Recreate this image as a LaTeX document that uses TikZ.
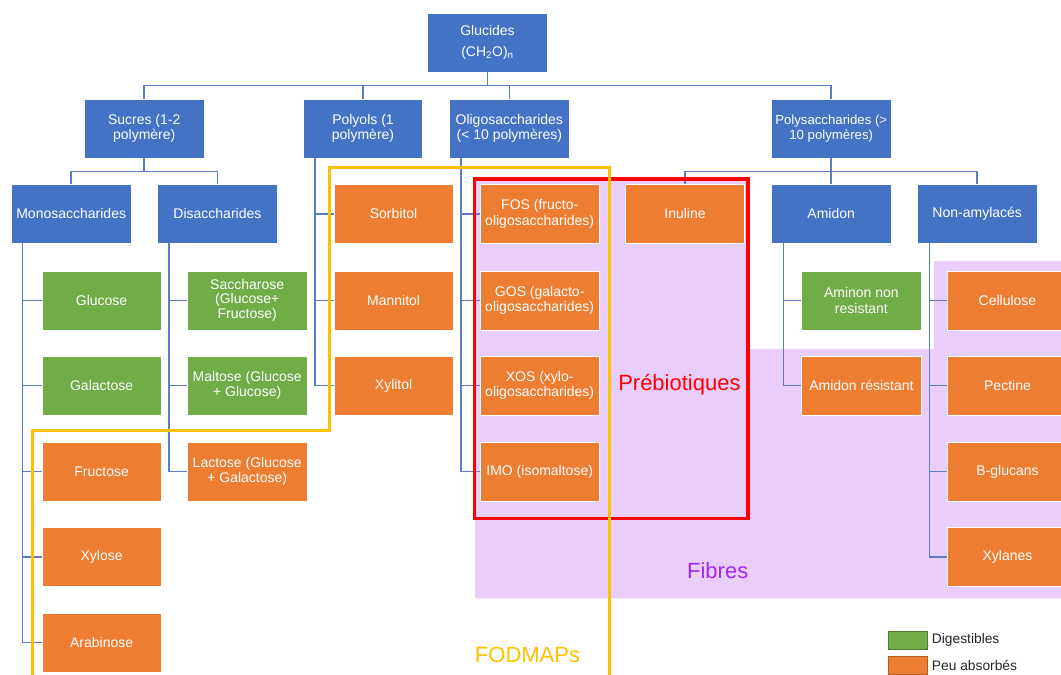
\documentclass[tikz,border=0pt]{standalone}
\usepackage{fontspec}
\setmainfont{Liberation Sans}
\definecolor{cblue}{HTML}{4472C4}
\definecolor{cgreen}{HTML}{70AD47}
\definecolor{corange}{HTML}{ED7D31}
\definecolor{cline}{RGB}{92,124,198}
\definecolor{cpurple}{RGB}{233,205,251}
\definecolor{cfibres}{RGB}{160,40,245}
\definecolor{cyellow}{HTML}{FFC000}
\definecolor{cred}{HTML}{FF0000}
\begin{document}
\begin{tikzpicture}[x=1pt,y=-1pt,
  box/.style={rectangle, minimum width=119.5pt, minimum height=59pt, draw=white, line width=0.6pt,
    text=white, align=center, inner sep=1pt, font=\fontsize{14}{15.4}\selectfont},
  bbox/.style={box, fill=cblue},
  gbox/.style={box, fill=cgreen},
  obox/.style={box, fill=corange},
  conn/.style={draw=cline, line width=1.5pt},
  bigtxt/.style={font=\fontsize{22}{26}\selectfont, inner sep=0pt},
  legsw/.style={rectangle, minimum width=39pt, minimum height=18pt, line width=0.8pt, inner sep=0pt},
  legtxt/.style={anchor=west, inner sep=0pt, text=black!85, font=\fontsize{13.8}{15}\selectfont}
]
\useasboundingbox (0,0) rectangle (1061,675);
% purple "Fibres" region
\fill[cpurple] (475,181) -- (748,181) -- (748,349) -- (934,349) -- (934,261) -- (1061,261)
  -- (1061,598.3) -- (475,598.3) -- cycle;

% level 1 and 2
\node[bbox] (root) at (487.5,42.5) {Glucides\\[5pt](CH\textsubscript{2}O)\textsubscript{n}};
\node[bbox] (sucres) at (144.2,128.5) {Sucres (1-2\\polymère)};
\node[bbox] (polyols) at (363,128.5) {Polyols (1\\polymère)};
\node[bbox] (oligo) at (509.3,128.5) {Oligosaccharides\\(< 10 polymères)};
\node[bbox, font=\fontsize{13.2}{15.4}\selectfont] (polys) at (831.2,128.5) {Polysaccharides (>\\10 polymères)};

% level 3
\node[bbox] (mono) at (71.2,213.8) {Monosaccharides};
\node[bbox] (disa) at (217.4,213.8) {Disaccharides};
\node[obox] (sorbitol) at (393.6,213.8) {Sorbitol};
\node[obox] (fos) at (539.7,213.8) {FOS (fructo-\\oligosaccharides)};
\node[obox] (inuline) at (685,213.8) {Inuline};
\node[bbox] (amidon) at (831.2,213.8) {Amidon};
\node[bbox] (nonamyl) at (977.2,213.8) {Non-amylacés};

% column A
\node[gbox] (glucose) at (101.6,300.3) {Glucose};
\node[gbox] (galactose) at (101.6,385.5) {Galactose};
\node[obox] (fructose) at (101.6,471.5) {Fructose};
\node[obox] (xylose) at (101.6,557.2) {Xylose};
\node[obox] (arabinose) at (101.6,642.5) {Arabinose};
% column B
\node[gbox, font=\fontsize{14}{14.5}\selectfont] (saccharose) at (247.2,300.3) {Saccharose\\(Glucose+\\Fructose)};
\node[gbox] (maltose) at (247.2,385.5) {Maltose (Glucose\\+ Glucose)};
\node[obox] (lactose) at (247.2,471.5) {Lactose (Glucose\\+ Galactose)};
% column C
\node[obox] (mannitol) at (393.6,300.3) {Mannitol};
\node[obox] (xylitol) at (393.6,385.5) {Xylitol};
% column D
\node[obox] (gos) at (539.7,300.3) {GOS (galacto-\\oligosaccharides)};
\node[obox] (xos) at (539.7,385.5) {XOS (xylo-\\oligosaccharides)};
\node[obox] (imo) at (539.7,471.5) {IMO (isomaltose)};
% amidon children
\node[gbox] (aminon) at (861.4,300.3) {Aminon non\\resistant};
\node[obox] (amres) at (861.4,385.5) {Amidon résistant};
% non-amylaces children
\node[obox] (cellulose) at (1007.5,300.3) {Cellulose};
\node[obox] (pectine) at (1007.5,385.5) {Pectine};
\node[obox] (bglucans) at (1007.5,471.5) {B-glucans};
\node[obox] (xylanes) at (1007.5,557.2) {Xylanes};

% bus coordinates
\coordinate (b1) at (487.5,85.7);
\coordinate (b2) at (144.2,171.7);
\coordinate (b3) at (831.2,171.7);
\coordinate (tA) at (22.7,243.3);
\coordinate (tB) at (169,243.3);
\coordinate (tC) at (315.1,158);
\coordinate (tD) at (460.8,158);
\coordinate (tE) at (783.3,243.3);
\coordinate (tF) at (929.3,243.3);

% connectors
\draw[conn] (root.south) -- (b1);
\draw[conn] (sucres.north) |- (b1) -| (polys.north);
\draw[conn] (polyols.north) |- (b1);
\draw[conn] (oligo.north) |- (b1);
\draw[conn] (sucres.south) -- (b2);
\draw[conn] (mono.north) |- (b2) -| (disa.north);
\draw[conn] (polys.south) -- (amidon.north);
\draw[conn] (inuline.north) |- (b3) -| (nonamyl.north);
\foreach \n in {glucose,galactose,fructose,xylose,arabinose} \draw[conn] (tA) |- (\n.west);
\foreach \n in {saccharose,maltose,lactose} \draw[conn] (tB) |- (\n.west);
\foreach \n in {sorbitol,mannitol,xylitol} \draw[conn] (tC) |- (\n.west);
\foreach \n in {fos,gos,xos,imo} \draw[conn] (tD) |- (\n.west);
\foreach \n in {aminon,amres} \draw[conn] (tE) |- (\n.west);
\foreach \n in {cellulose,pectine,bglucans,xylanes} \draw[conn] (tF) |- (\n.west);

% red prebiotiques frame
\draw[cred, line width=3.2pt] (474.5,179) rectangle (748,518.3);
% yellow FODMAPs frame
\draw[cyellow, line width=3pt] (32.7,680) -- (32.7,430) -- (329.5,430) -- (329.5,167.7)
  -- (609,167.7) -- (609,680);

% labels
\node[bigtxt, text=cred] (prebio) at (679.4,384.3) {Prébiotiques};
\node[bigtxt, text=cfibres] (fibres) at (717.7,570.7) {Fibres};
\node[bigtxt, text=cyellow] (fodmaps) at (527.5,655) {FODMAPs};

% legend
\node[legsw, fill=cgreen, draw=cgreen!70!black] (lg1) at (907.7,640) {};
\node[legsw, fill=corange, draw=corange!75!black] (lg2) at (907.7,665) {};
\node[legtxt] (lt1) at (931.7,640) {Digestibles};
\node[legtxt] (lt2) at (931.7,665) {Peu absorbés};
\end{tikzpicture}
\end{document}
